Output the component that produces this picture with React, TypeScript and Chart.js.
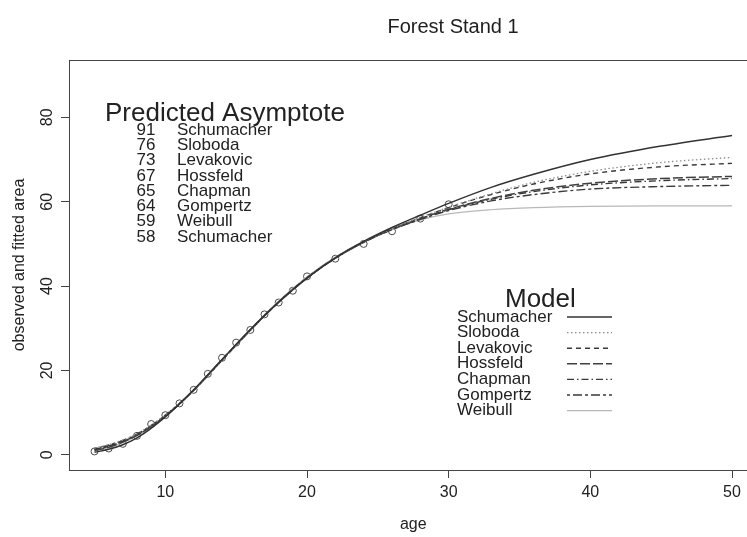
import React, { useEffect, useRef } from "react";
import { Chart, registerables } from "chart.js";

Chart.register(...registerables);

const TITLE = "Forest Stand 1";
const X_TITLE = "age";
const Y_TITLE = "observed and fitted area";
const X_TICKS = [10, 20, 30, 40, 50];
const Y_TICKS = [0, 20, 40, 60, 80];

// observed data
const OBS_AGE = [5, 6, 7, 8, 9, 10, 11, 12, 13, 14, 15, 16, 17, 18, 19, 20, 22, 24, 26, 28, 30];
const OBS_AREA = [0.8, 1.5, 2.6, 4.5, 7.3, 9.4, 12.2, 15.4, 19.2, 23.0, 26.6, 29.6, 33.3, 36.1, 38.9, 42.3, 46.5, 50.0, 53.0, 56.0, 59.4];

// fitted curves
const CURVE_AGES = [5, 6, 7, 8, 10, 12, 14, 16, 18, 20, 22, 24, 26, 28, 30, 33, 36, 40, 45, 50];
const SCHUMACHER = [0.6, 1.3, 2.4, 4.0, 9.0, 15.4, 22.6, 29.7, 36.2, 41.9, 46.7, 50.6, 53.9, 56.8, 59.6, 63.4, 66.5, 70.0, 73.2, 75.7];
const SLOBODA = [1.6, 2.4, 3.5, 5.0, 9.4, 15.3, 22.4, 29.5, 36.1, 41.9, 46.7, 50.5, 53.6, 56.3, 58.7, 61.9, 64.6, 67.2, 69.3, 70.5];
const LEVAKOVIC = [1.2, 2.0, 3.2, 4.7, 9.2, 15.3, 22.5, 29.6, 36.2, 41.9, 46.7, 50.5, 53.6, 56.2, 58.6, 61.7, 64.2, 66.6, 68.3, 69.1];
const HOSSFELD = [1.0, 1.8, 3.0, 4.6, 9.2, 15.3, 22.5, 29.6, 36.2, 41.9, 46.6, 50.4, 53.5, 56.0, 58.2, 60.8, 62.7, 64.4, 65.5, 66.0];
const CHAPMAN = [1.3, 2.1, 3.2, 4.7, 9.3, 15.3, 22.5, 29.6, 36.2, 41.9, 46.6, 50.4, 53.4, 55.9, 58.1, 60.6, 62.4, 64.0, 65.0, 65.5];
const GOMPERTZ = [1.5, 2.3, 3.4, 4.9, 9.4, 15.3, 22.4, 29.5, 36.2, 42.0, 46.7, 50.4, 53.4, 55.8, 57.9, 60.2, 61.7, 63.0, 63.6, 63.9];
const WEIBULL = [0.9, 1.7, 2.9, 4.5, 9.2, 15.3, 22.6, 29.8, 36.5, 42.2, 46.9, 50.6, 53.5, 55.7, 57.1, 58.1, 58.6, 58.9, 59.0, 59.0];

const MODEL_NAMES = ["Schumacher", "Sloboda", "Levakovic", "Hossfeld", "Chapman", "Gompertz", "Weibull"];
const MODEL_VALUES = [SCHUMACHER, SLOBODA, LEVAKOVIC, HOSSFELD, CHAPMAN, GOMPERTZ, WEIBULL];

const ASYMPTOTE_VALUES = [91, 76, 73, 67, 65, 64, 59, 58];
const ASYMPTOTE_NAMES = ["Schumacher", "Sloboda", "Levakovic", "Hossfeld", "Chapman", "Gompertz", "Weibull", "Schumacher"];

// styles
const FONT = "'Liberation Sans', Arial, Helvetica, sans-serif";
const TEXT = "#222222";
const MODEL_COLORS = ["#333333", "#8c8c8c", "#3a3a3a", "#404040", "#3a3a3a", "#3a3a3a", "#b8b8b8"];
const MODEL_DASH: number[][] = [[], [1.5, 2.5], [5, 4], [10, 3], [7, 3, 1.5, 3], [3, 3, 9, 3], []];
const MODEL_WIDTH = [1.5, 1.3, 1.4, 1.5, 1.4, 1.4, 1.2];

const overlay = {
  id: "overlay",
  afterDraw(chart: any) {
    const { ctx, chartArea: a } = chart;
    ctx.save();
    // plot box
    ctx.strokeStyle = "#444";
    ctx.lineWidth = 1;
    ctx.strokeRect(Math.round(a.left) + 0.5, Math.round(a.top) + 0.5, a.right - a.left, a.bottom - a.top);

    ctx.fillStyle = "#1e1e1e";
    // title
    ctx.font = `20px ${FONT}`;
    ctx.textAlign = "center";
    ctx.textBaseline = "alphabetic";
    ctx.fillText(TITLE, 453, 33);

    // predicted asymptote block
    ctx.fillStyle = TEXT;
    ctx.font = `26px ${FONT}`;
    ctx.textAlign = "left";
    ctx.fillText("Predicted Asymptote", 105, 121);
    ctx.font = `17px ${FONT}`;
    ctx.textBaseline = "middle";
    ASYMPTOTE_VALUES.forEach((v, i) => {
      const y = 130 + i * 15.3;
      ctx.textAlign = "center";
      ctx.fillText(String(v), 146, y);
      ctx.textAlign = "left";
      ctx.fillText(ASYMPTOTE_NAMES[i], 177, y);
    });

    // legend
    ctx.font = `26px ${FONT}`;
    ctx.textAlign = "left";
    ctx.textBaseline = "alphabetic";
    ctx.fillText("Model", 505, 306.5);
    ctx.font = `17px ${FONT}`;
    ctx.textBaseline = "middle";
    MODEL_NAMES.forEach((name, i) => {
      const y = 317 + i * 15.6;
      ctx.fillStyle = TEXT;
      ctx.fillText(name, 457, y);
      ctx.beginPath();
      ctx.strokeStyle = MODEL_COLORS[i];
      ctx.lineWidth = MODEL_WIDTH[i];
      ctx.setLineDash(MODEL_DASH[i]);
      ctx.moveTo(567, y);
      ctx.lineTo(612, y);
      ctx.stroke();
    });
    ctx.setLineDash([]);
    ctx.restore();
  },
};

export default function App() {
  const ref = useRef<HTMLCanvasElement>(null);

  useEffect(() => {
    const curveSets = MODEL_NAMES.map((name, i) => ({
      type: "line" as const,
      label: name,
      data: CURVE_AGES.map((x, j) => ({ x, y: MODEL_VALUES[i][j] })),
      borderColor: MODEL_COLORS[i],
      borderWidth: MODEL_WIDTH[i],
      borderDash: MODEL_DASH[i],
      pointRadius: 0,
      fill: false,
      cubicInterpolationMode: "monotone" as const,
    }));
    const obsSet = {
      type: "scatter" as const,
      label: "observed",
      data: OBS_AGE.map((x, j) => ({ x, y: OBS_AREA[j] })),
      showLine: false,
      pointRadius: 3.5,
      pointStyle: "circle",
      pointBorderColor: "#4a4a4a",
      pointBackgroundColor: "rgba(0,0,0,0)",
      pointBorderWidth: 1,
      borderColor: "#4a4a4a",
      backgroundColor: "rgba(0,0,0,0)",
    };

    const tickFont = { family: FONT, size: 16 };
    const chart = new Chart(ref.current as HTMLCanvasElement, {
      type: "line",
      data: { datasets: [...curveSets, obsSet] as any },
      options: {
        responsive: false,
        animation: false,
        devicePixelRatio: 1,
        events: [],
        layout: { padding: { top: 60, right: 12.5, left: 0, bottom: 0 } },
        plugins: { legend: { display: false }, tooltip: { enabled: false }, title: { display: false } },
        scales: {
          x: {
            type: "linear",
            min: 3.2,
            max: 51.8,
            afterBuildTicks: (s: any) => {
              s.ticks = X_TICKS.map((v) => ({ value: v }));
            },
            afterFit: (s: any) => {
              s.height = 67;
            },
            grid: { display: true, drawOnChartArea: false, drawTicks: true, tickLength: 8, color: "#444", lineWidth: 1 },
            border: { display: false },
            ticks: { font: tickFont, color: TEXT, padding: 5, maxRotation: 0, minRotation: 0, autoSkip: false },
            title: { display: true, text: X_TITLE, font: tickFont, color: TEXT, padding: { top: 0, bottom: 2.4 } },
          },
          y: {
            type: "linear",
            min: -3.6,
            max: 93.6,
            afterBuildTicks: (s: any) => {
              s.ticks = Y_TICKS.map((v) => ({ value: v }));
            },
            afterFit: (s: any) => {
              s.width = 69;
            },
            grid: { display: true, drawOnChartArea: false, drawTicks: true, tickLength: 8, color: "#444", lineWidth: 1 },
            border: { display: false },
            ticks: { font: tickFont, color: TEXT, padding: 5, minRotation: 90, maxRotation: 90, crossAlign: "center", autoSkip: false },
            title: { display: true, text: Y_TITLE, font: tickFont, color: TEXT, padding: { top: 9.5, bottom: 0 } },
          },
        },
      },
      plugins: [overlay],
    } as any);
    return () => chart.destroy();
  }, []);

  return (
    <div style={{ position: "fixed", left: 0, top: 0, width: 747, height: 537, overflow: "hidden", background: "#fff" }}>
      <canvas ref={ref} width={770} height={537} style={{ display: "block", width: 770, height: 537 }} />
    </div>
  );
}
